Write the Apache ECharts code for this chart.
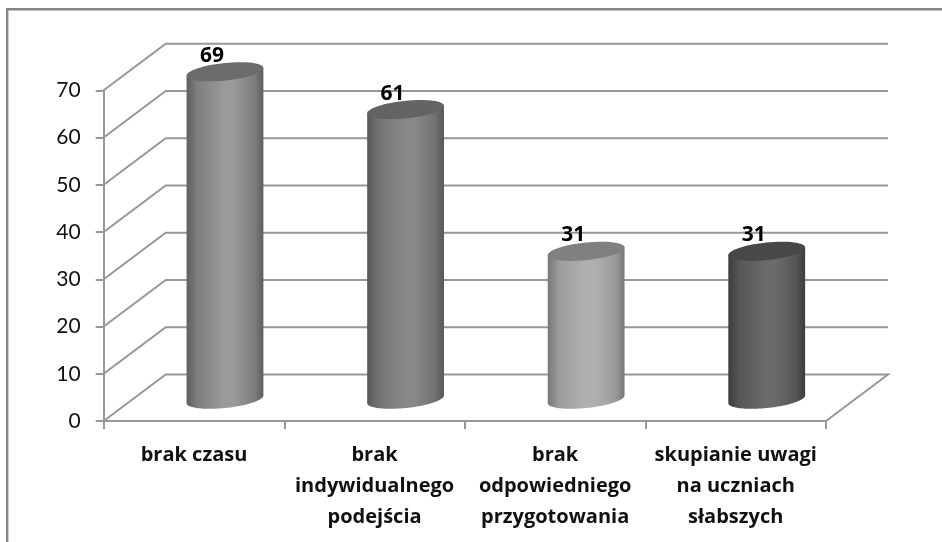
<!DOCTYPE html>
<html>
<head>
<meta charset="utf-8">
<style>html,body{margin:0;padding:0;background:#fff}#c{width:942px;height:542px;filter:blur(0.35px)}</style>
<script src="https://cdn.jsdelivr.net/npm/echarts@6/dist/echarts.min.js"></script>
</head>
<body>
<div id="c"></div>
<script>
var categories = ['brak czasu', 'brak\nindywidualnego\npodejścia', 'brak\nodpowiedniego\nprzygotowania', 'skupianie uwagi\nna uczniach\nsłabszych'];
var values = [69, 61, 31, 31];
var yTicks = [0, 10, 20, 30, 40, 50, 60, 70];

var edgeColors = ['#5e5e5e', '#565656', '#777777', '#3c3c3c'];
var shoulderColors = ['#7e7e7e', '#727272', '#9a9a9a', '#565656'];
var midColors = ['#9a9a9a', '#888888', '#b0b0b0', '#6a6a6a'];
var topColors = ['#6c6c6c', '#636363', '#808080', '#484848'];
var lineColor = '#979797';
var FONT = 'Lato, "Open Sans", sans-serif';
var LABEL_FONT = '"Open Sans", Lato, sans-serif';
var depthX = 62, depthY = -46.5;
var radiusX = 38.4, radiusY = 8.8, skew = 3.8;

function ringPoints(cx, cy, from, to, steps) {
  var pts = [];
  for (var i = 0; i <= steps; i++) {
    var t = from + (to - from) * i / steps;
    pts.push([cx + radiusX * Math.cos(t), cy - skew * Math.cos(t) - radiusY * Math.sin(t)]);
  }
  return pts;
}

function renderWall(params, api) {
  var v = api.value(1);
  var y = api.coord([0, v])[1];
  var cs = params.coordSys;
  var left = cs.x, right = cs.x + cs.width;
  var pts = [[left, y], [left + depthX, y + depthY], [right + depthX, y + depthY]];
  if (v === 0) pts.push([right, y]);
  return {type: 'polyline', shape: {points: pts}, style: {stroke: lineColor, lineWidth: 2, fill: null}, silent: true};
}

function renderCylinder(params, api) {
  var i = api.value(0), v = api.value(1);
  var top = api.coord([i, v]), base = api.coord([i, 0]);
  var cx = top[0] + depthX / 2;
  var topY = top[1] + depthY / 2, baseY = base[1] + depthY / 2 + 1.5;
  var side = [[cx + radiusX, topY - skew]];
  side = side.concat(ringPoints(cx, baseY, 0, -Math.PI, 48));
  side.push([cx - radiusX, topY + skew]);
  var grad = new echarts.graphic.LinearGradient(0, 0, 1, 0, [
    {offset: 0, color: edgeColors[i]},
    {offset: 0.14, color: shoulderColors[i]},
    {offset: 0.48, color: midColors[i]},
    {offset: 0.62, color: midColors[i]},
    {offset: 0.88, color: shoulderColors[i]},
    {offset: 1, color: edgeColors[i]}
  ]);
  return {
    type: 'group',
    children: [
      {type: 'polygon', shape: {points: side}, style: {fill: grad}},
      {type: 'polygon', shape: {points: ringPoints(cx, topY, 0, 2 * Math.PI, 64)}, style: {fill: topColors[i]}},
      {type: 'text', style: {
        x: cx - 13, y: topY - 16, text: String(v), fill: '#000',
        font: 'bold 21px ' + LABEL_FONT, textAlign: 'center', textVerticalAlign: 'middle'
      }}
    ]
  };
}

var chart = echarts.init(document.getElementById('c'), null, {renderer: 'canvas'});
chart.setOption({
  animation: false,
  backgroundColor: '#ffffff',
  graphic: [{
    type: 'rect', silent: true, z: -1,
    shape: {x: 7.2, y: 9.2, width: 960, height: 560},
    style: {fill: '#fff', stroke: '#858585', lineWidth: 2.4}
  }],
  grid: {left: 103.7, right: 116, top: 90.3, bottom: 121},
  xAxis: {
    type: 'category',
    data: categories,
    axisLine: {show: true, lineStyle: {color: lineColor, width: 2}},
    axisTick: {show: true, alignWithLabel: false, length: 8, lineStyle: {color: lineColor, width: 2}},
    axisLabel: {
      interval: 0, color: '#111', fontFamily: LABEL_FONT, fontWeight: 'bold',
      fontSize: 20, lineHeight: 31, margin: 19, verticalAlign: 'top'
    }
  },
  yAxis: {
    type: 'value', min: 0, max: 70, interval: 10,
    axisLine: {show: true, lineStyle: {color: lineColor, width: 2}},
    axisTick: {show: true, length: 8, lineStyle: {color: lineColor, width: 2}},
    splitLine: {show: false},
    axisLabel: {color: '#111', fontFamily: FONT, fontSize: 21, margin: 23}
  },
  series: [
    {type: 'custom', renderItem: renderWall, z: 1, silent: true,
     data: yTicks.map(function (t) { return [0, t]; })},
    {type: 'custom', renderItem: renderCylinder, z: 3, silent: true,
     data: values.map(function (v, i) { return [i, v]; })}
  ]
});
</script>
</body>
</html>
